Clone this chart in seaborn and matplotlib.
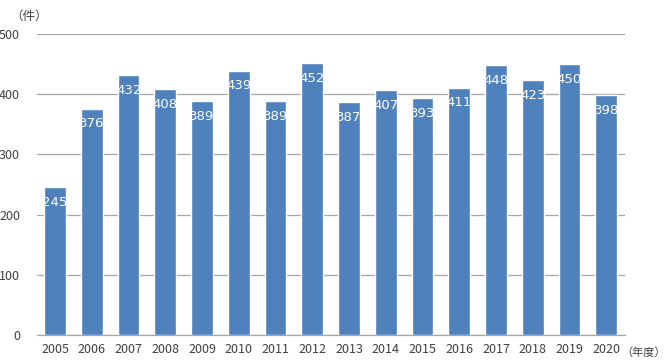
import seaborn as sns
import matplotlib.pyplot as plt
import pandas as pd

years = [str(y) for y in range(2005, 2021)]
counts = [245, 376, 432, 408, 389, 439, 389, 452, 387, 407, 393, 411, 448, 423, 450, 398]
yticks = [0, 100, 200, 300, 400, 500]

sns.set_theme(style="white")
plt.rcParams['font.family'] = ['Noto Sans CJK JP', 'DejaVu Sans']

data = pd.DataFrame({'year': years, 'count': counts})

fig = plt.figure(figsize=(6.68, 3.64), dpi=100)
ax = fig.add_axes([0.055, 0.080, 0.880, 0.8266])

sns.barplot(x='year', y='count', data=data, color='#4F81BD', saturation=1,
            width=0.59, ax=ax, zorder=3)

ax.set_ylim(0, 500)
ax.set_xlim(-0.5, len(years) - 0.5)
ax.set_yticks(yticks)
ax.yaxis.grid(True, color='#A6A6A6', linewidth=0.9, zorder=0)
ax.set_axisbelow(True)
for s in ['top', 'right', 'left']:
    ax.spines[s].set_visible(False)
ax.spines['bottom'].set_color('#A6A6A6')
ax.spines['bottom'].set_linewidth(0.9)
ax.tick_params(axis='both', length=0, labelsize=9, colors='#404040', pad=6)
ax.tick_params(axis='y', pad=12)
ax.set_xlabel('')
ax.set_ylabel('')

for i, v in enumerate(counts):
    ax.annotate(str(v), (i, v), xytext=(0, -11), textcoords='offset points',
                ha='center', va='center', color='white', fontsize=9.5,
                family='DejaVu Sans', zorder=5)

fig.text(0.015, 0.955, '（件）', fontsize=9, color='#404040', ha='left', va='center')
fig.text(0.996, 0.032, '（年度）', fontsize=8, color='#404040', ha='right', va='center')

plt.savefig('out.png', dpi=100)
